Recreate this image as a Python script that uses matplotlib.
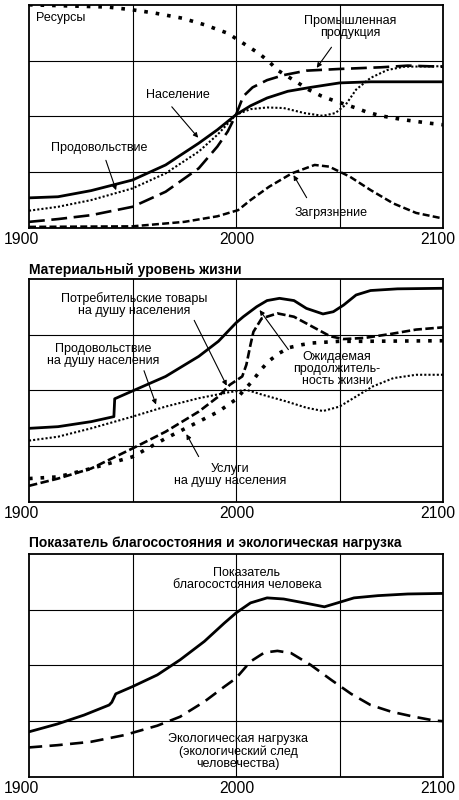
import numpy as np
import matplotlib
matplotlib.use('Agg')
import matplotlib.pyplot as plt
from matplotlib.transforms import ScaledTranslation

plt.rcParams['font.family'] = ['Liberation Sans', 'DejaVu Sans']

# ---- panel 1: state of the world ----
res_x = [1900, 1938, 1950, 1961, 1974, 1985, 1996, 2001, 2011, 2016, 2020, 2030, 2035, 2041, 2046, 2058, 2063, 2070, 2081, 2093, 2100]
res_y = [4.00, 3.96, 3.91, 3.85, 3.76, 3.64, 3.49, 3.37, 3.13, 2.98, 2.83, 2.60, 2.48, 2.37, 2.30, 2.15, 2.08, 2.01, 1.94, 1.88, 1.85]

pop_x = [1900, 1914, 1930, 1950, 1966, 1982, 1991, 2000, 2007, 2015, 2025, 2036, 2050, 2065, 2100]
pop_y = [0.54, 0.56, 0.67, 0.86, 1.13, 1.52, 1.76, 2.03, 2.19, 2.33, 2.45, 2.52, 2.60, 2.62, 2.62]

food_x = [1900, 1914, 1930, 1950, 1966, 1982, 1991, 2000, 2007, 2015, 2023, 2033, 2042, 2048, 2053, 2058, 2065, 2073, 2081, 2100]
food_y = [0.31, 0.38, 0.50, 0.71, 0.98, 1.37, 1.67, 2.03, 2.13, 2.16, 2.15, 2.06, 2.01, 2.06, 2.21, 2.48, 2.69, 2.83, 2.89, 2.90]

ind_x = [1900, 1914, 1930, 1950, 1966, 1982, 1991, 1996, 2000, 2003.5, 2008, 2015, 2023, 2034, 2050, 2070, 2083, 2100]
ind_y = [0.11, 0.16, 0.23, 0.38, 0.65, 1.07, 1.46, 1.73, 2.03, 2.36, 2.52, 2.65, 2.74, 2.82, 2.85, 2.88, 2.91, 2.89]

pol_x = [1900, 1950, 1975, 1991, 2001, 2007, 2016, 2027, 2038, 2045, 2055, 2065, 2076, 2087, 2100]
pol_y = [0.02, 0.03, 0.11, 0.21, 0.32, 0.50, 0.74, 0.98, 1.13, 1.10, 0.92, 0.68, 0.44, 0.27, 0.17]

# ---- panel 2: material standard of living ----
goods_x = [1900, 1914, 1930, 1941, 1941.4, 1950, 1966, 1982, 1991.5, 2000, 2003.5, 2010, 2015, 2021, 2028, 2034, 2042, 2047, 2052, 2058, 2065, 2078, 2100]
goods_y = [1.32, 1.35, 1.44, 1.53, 1.85, 1.99, 2.25, 2.61, 2.88, 3.21, 3.32, 3.50, 3.61, 3.65, 3.61, 3.47, 3.37, 3.41, 3.53, 3.71, 3.79, 3.82, 3.83]

life_x = [1900, 1914, 1930, 1950, 1966, 1982, 1991.5, 1997, 2003, 2005, 2007, 2008.4, 2012.4, 2020, 2028, 2037, 2045.5, 2052, 2062, 2074.5, 2087, 2100]
life_y = [0.29, 0.42, 0.60, 0.96, 1.26, 1.62, 1.89, 2.10, 2.25, 2.46, 2.82, 3.05, 3.29, 3.38, 3.32, 3.14, 2.97, 2.92, 2.94, 3.01, 3.09, 3.13]

foodpc_x = [1900, 1914, 1930, 1950, 1966, 1982, 1991.5, 1997, 2005, 2013, 2024.5, 2034, 2042, 2050, 2058, 2066, 2076, 2087, 2100]
foodpc_y = [1.10, 1.17, 1.32, 1.53, 1.71, 1.86, 1.93, 1.97, 2.01, 1.92, 1.80, 1.69, 1.63, 1.71, 1.89, 2.07, 2.22, 2.28, 2.28]

serv_x = [1900, 1914, 1930, 1950, 1966, 1982, 1991.5, 2000, 2004, 2008, 2012, 2016, 2021, 2026, 2032, 2037, 2050, 2062, 2100]
serv_y = [0.42, 0.45, 0.60, 0.81, 1.14, 1.44, 1.62, 1.84, 2.01, 2.17, 2.37, 2.53, 2.67, 2.77, 2.82, 2.85, 2.88, 2.88, 2.89]

# ---- panel 3: welfare and footprint ----
wel_x = [1900, 1913.7, 1926.6, 1938.7, 1940, 1941.9, 1950, 1962, 1973, 1984.7, 1994.4, 2000, 2007, 2015, 2023, 2033, 2042.7, 2049, 2057, 2068.5, 2083, 2100]
wel_y = [0.81, 0.95, 1.11, 1.29, 1.34, 1.49, 1.62, 1.83, 2.10, 2.43, 2.76, 2.94, 3.12, 3.21, 3.19, 3.12, 3.05, 3.12, 3.21, 3.25, 3.28, 3.29]

foot_x = [1900, 1913.7, 1929.8, 1946, 1962, 1973, 1984.7, 1994.4, 2000, 2007, 2013.7, 2020, 2026.6, 2036, 2046, 2055.6, 2065, 2075, 2086, 2096, 2100]
foot_y = [0.53, 0.57, 0.63, 0.75, 0.92, 1.08, 1.35, 1.62, 1.77, 2.07, 2.23, 2.26, 2.22, 2.01, 1.74, 1.49, 1.29, 1.17, 1.08, 1.01, 1.00]

tick_years = [1900, 2000, 2100]
grid_years = [1950, 2000, 2050]
titles = ['Материальный уровень жизни', 'Показатель благосостояния и экологическая нагрузка']

fig = plt.figure(figsize=(4.59, 8.0), dpi=100)
ax1 = fig.add_axes([0.0632, 0.715, 0.902, 0.279])
ax2 = fig.add_axes([0.0632, 0.3725, 0.902, 0.279])
ax3 = fig.add_axes([0.0632, 0.02875, 0.902, 0.279])

shifts = [-8, 1, -5]  # px offsets of year labels
for ax in (ax1, ax2, ax3):
    ax.set_xlim(1900, 2100)
    ax.set_ylim(0, 4)
    for g in grid_years:
        ax.axvline(g, color='black', lw=0.8, zorder=1)
    for g in (1, 2, 3):
        ax.axhline(g, color='black', lw=0.8, zorder=1)
    ax.set_xticks(tick_years)
    ax.set_xticklabels([str(t) for t in tick_years], fontsize=11.3)
    ax.tick_params(axis='x', length=0, pad=3)
    ax.set_yticks([])
    for lab, dx in zip(ax.get_xticklabels(), shifts):
        lab.set_transform(lab.get_transform() + ScaledTranslation(dx / 100, 0, fig.dpi_scale_trans))
    for s in ax.spines.values():
        s.set_linewidth(1.3)

big_dot = dict(color='black', lw=2.6, dashes=(1, 2.2))
small_dot = dict(color='black', lw=1.5, dashes=(1, 1))
long_dash = dict(color='black', lw=1.9, dashes=(6, 2.5))
short_dash = dict(color='black', lw=1.8, dashes=(2.8, 1.3))
solid = dict(color='black', lw=2.0)

ax1.plot(res_x, res_y, **big_dot)
ax1.plot(food_x, food_y, **small_dot)
ax1.plot(ind_x, ind_y, **long_dash)
ax1.plot(pol_x, pol_y, **short_dash)
ax1.plot(pop_x, pop_y, **solid)

ax2.plot(serv_x, serv_y, **big_dot)
ax2.plot(foodpc_x, foodpc_y, **small_dot)
ax2.plot(life_x, life_y, color='black', lw=1.9, dashes=(3.2, 1.3))
ax2.plot(goods_x, goods_y, **solid)

ax3.plot(foot_x, foot_y, color='black', lw=1.9, dashes=(5, 2.8))
ax3.plot(wel_x, wel_y, **solid)

fs = 9
ls = 1.0
arrow = dict(arrowstyle='-|>', color='black', lw=0.8, mutation_scale=7)

ax1.text(1903.5, 3.77, 'Ресурсы', fontsize=fs, va='center', ha='left')
ax1.text(2055, 3.60, 'Промышленная\nпродукция', fontsize=fs, ha='center', va='center', linespacing=ls)
ax1.text(1972, 2.39, 'Население', fontsize=fs, ha='center', va='center')
ax1.text(1934, 1.43, 'Продовольствие', fontsize=fs, ha='center', va='center')
ax1.text(2046, 0.27, 'Загрязнение', fontsize=fs, ha='center', va='center')
ax1.annotate('', xy=(2038.2, 2.83), xytext=(2046.9, 3.28), arrowprops=arrow)
ax1.annotate('', xy=(1982.6, 1.58), xytext=(1968.1, 2.21), arrowprops=arrow)
ax1.annotate('', xy=(1942.5, 0.63), xytext=(1936.7, 1.26), arrowprops=arrow)
ax1.annotate('', xy=(2027.1, 0.99), xytext=(2034.8, 0.50), arrowprops=arrow)

ax2.text(1951, 3.53, 'Потребительские товары\nна душу населения', fontsize=fs, ha='center', va='center', linespacing=ls)
ax2.text(1935.7, 2.63, 'Продовольствие\nна душу населения', fontsize=fs, ha='center', va='center', linespacing=ls)
ax2.text(2048.8, 2.38, 'Ожидаемая\nпродолжитель-\nность жизни', fontsize=fs, ha='center', va='center', linespacing=ls)
ax2.text(1997, 0.48, 'Услуги\nна душу населения', fontsize=fs, ha='center', va='center', linespacing=ls)
ax2.annotate('', xy=(1996.1, 2.04), xytext=(1979.2, 3.30), arrowprops=arrow)
ax2.annotate('', xy=(1961.8, 1.70), xytext=(1955.1, 2.40), arrowprops=arrow)
ax2.annotate('', xy=(2010.6, 3.48), xytext=(2026.1, 2.69), arrowprops=arrow)
ax2.annotate('', xy=(1975.4, 1.26), xytext=(1982.6, 0.77), arrowprops=arrow)

ax3.text(2005.3, 3.55, 'Показатель\nблагосостояния человека', fontsize=fs, ha='center', va='center', linespacing=ls)
ax3.text(2001, 0.46, 'Экологическая нагрузка\n(экологический след\nчеловечества)', fontsize=fs, ha='center', va='center', linespacing=ls)

fig.text(0.063, 1 - 270 / 800, titles[0], fontsize=10, fontweight='bold', ha='left', va='center')
fig.text(0.063, 1 - 543 / 800, titles[1], fontsize=10, fontweight='bold', ha='left', va='center')

fig.savefig('out.png', dpi=100)
